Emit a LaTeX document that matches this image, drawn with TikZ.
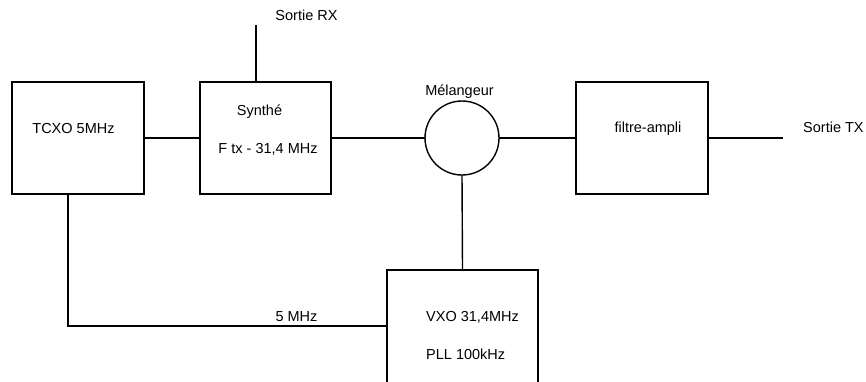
\documentclass[tikz,border=0pt]{standalone}
\usepackage{fontspec}
\setmainfont{Liberation Sans}
\usetikzlibrary{calc}
\begin{document}
\begin{tikzpicture}[x=1pt,y=-1pt,
  blk/.style={draw,line width=1.4pt,rectangle,inner sep=0pt,outer sep=0pt},
  mix/.style={draw,line width=1.4pt,circle,minimum size=74pt,inner sep=0pt,outer sep=0pt},
  wire/.style={line width=1.4pt},
  lbl/.style={inner sep=0pt,font=\fontsize{14.5}{17}\selectfont}]
\useasboundingbox (0,0) rectangle (866,381);
\clip (0,0) rectangle (866,381);
\fill[white] (0,0) rectangle (866,381);
% blocks
\node[blk,minimum width=132pt,minimum height=112pt] (tcxo) at (78,138) {};
\node[blk,minimum width=131pt,minimum height=112pt] (synth) at (265.5,138) {};
\node[mix] (mixer) at (462,138) {};
\node[blk,minimum width=132pt,minimum height=112pt] (filt) at (642,138) {};
\node[blk,minimum width=151pt,minimum height=124pt] (vxo) at (462.5,332) {};
\coordinate (rxend) at (256,25);
\coordinate (txend) at (783,138);
% texts
\node[lbl,anchor=base] (trx) at (306.5,20.5) {Sortie RX};
\node[lbl,anchor=base] (ttcxo) at (73.5,133.3) {TCXO 5MHz};
\node[lbl,anchor=base] (tsyn) at (259.5,115) {Synthé};
\node[lbl,anchor=base] (tftx) at (268,153) {F tx - 31,4 MHz};
\node[lbl,anchor=base] (tmix) at (459.5,95) {Mélangeur};
\node[lbl,anchor=base] (tfilt) at (648,132) {filtre-ampli};
\node[lbl,anchor=base west] (ttx) at (803,132) {Sortie TX};
\node[lbl,anchor=base] (t5) at (296.5,321) {5 MHz};
\node[lbl,anchor=base west] (tvxo) at (426,321) {VXO 31,4MHz};
\node[lbl,anchor=base west] (tpll) at (426,359) {PLL 100kHz};
% connectors
\draw[wire] (rxend) -- (rxend |- synth.north);
\draw[wire] (tcxo.east) -- (synth.west);
\draw[wire] (synth.east) -- (mixer.west);
\draw[wire] (mixer.east) -- (filt.west);
\draw[wire] (filt.east) -- (txend);
\draw[wire] (mixer.south) -- (vxo.north);
\draw[wire] ([xshift=-10pt]tcxo.south) |- ($(vxo.west)+(0,-6)$);
\end{tikzpicture}
\end{document}
